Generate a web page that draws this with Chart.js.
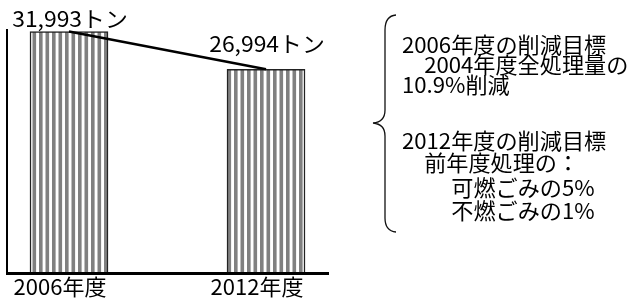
<!DOCTYPE html>
<html>
<head>
<meta charset="utf-8">
<script src="https://cdn.jsdelivr.net/npm/chart.js@4"></script>
<style>
  html, body { margin: 0; padding: 0; background: #fff; }
</style>
</head>
<body>
<canvas id="chart" width="627" height="301"></canvas>
<script>
const years = ['2006年度', '2012年度'];
const tons = [31993, 26994];
const notes = [
    '2006年度の削減目標',
    '　2004年度全処理量の',
    '10.9%削減',
    '2012年度の削減目標',
    '　前年度処理の：',
    '　　 可燃ごみの5%',
    '　　 不燃ごみの1%'
];

const FONT = '"Noto Sans CJK JP", "Noto Sans", sans-serif';

// motif rayé vertical des barres
function stripes() {
    const c = document.createElement('canvas');
    c.width = 13;
    c.height = 4;
    const g = c.getContext('2d');
    g.fillStyle = '#fff';
    g.fillRect(0, 0, 13, 4);
    g.fillStyle = '#808080';
    g.fillRect(0, 0, 3.6, 4);
    g.fillRect(6.5, 0, 3.6, 4);
    return g.createPattern(c, 'repeat');
}

// texte un peu élargi horizontalement
function wideText(ctx, t, x, y, sx) {
    ctx.save();
    ctx.translate(x, y);
    ctx.scale(sx, 1);
    ctx.fillText(t, 0, 0);
    ctx.restore();
}

const points = tons.map((t, i) => ({ x: i, y: t }));

const annotations = {
    id: 'annotations',
    afterDatasetsDraw(chart) {
        const ctx = chart.ctx;
        const meta = chart.getDatasetMeta(1);
        ctx.save();
        ctx.fillStyle = '#000';
        ctx.textBaseline = 'alphabetic';

        // valeurs au-dessus des barres
        ctx.font = '22px ' + FONT;
        ctx.textAlign = 'center';
        const lift = [4.5, 17];
        meta.data.forEach((bar, i) => {
            wideText(ctx, tons[i].toLocaleString('en-US') + 'トン', bar.x + 1, bar.y - lift[i], 1.04);
        });

        // texte à droite
        ctx.font = '21.5px ' + FONT;
        ctx.textAlign = 'left';
        const ys = [53, 73, 93, 149, 171, 196, 219];
        notes.forEach((t, i) => wideText(ctx, t, 402, ys[i], 1.03));

        // accolade
        ctx.strokeStyle = '#111';
        ctx.lineWidth = 1.3;
        ctx.beginPath();
        ctx.moveTo(396, 15);
        ctx.quadraticCurveTo(385, 16, 385, 30);
        ctx.lineTo(385, 110);
        ctx.quadraticCurveTo(385, 122, 373, 123);
        ctx.quadraticCurveTo(385, 124, 385, 136);
        ctx.lineTo(385, 218);
        ctx.quadraticCurveTo(385, 231, 396, 232);
        ctx.stroke();
        ctx.restore();
    }
};

new Chart(document.getElementById('chart'), {
    data: {
        datasets: [
            {
                type: 'line',
                data: points,
                borderColor: '#000',
                borderWidth: 2.5,
                pointRadius: 0,
                order: 0
            },
            {
                type: 'bar',
                data: points,
                backgroundColor: stripes(),
                borderColor: '#222',
                borderWidth: 1.5,
                barThickness: 78,
                order: 1
            }
        ]
    },
    options: {
        responsive: false,
        animation: false,
        layout: { padding: { left: 7, right: 299, top: 30, bottom: 1.6 } },
        plugins: {
            legend: { display: false },
            tooltip: { enabled: false }
        },
        scales: {
            x: {
                type: 'linear',
                offset: false,
                min: -0.3147,
                max: 1.3147,
                afterBuildTicks: (scale) => {
                    scale.ticks = years.map((_, i) => ({ value: i }));
                },
                ticks: {
                    callback: (v) => years[v],
                    font: { family: FONT, size: 22 },
                    color: '#000',
                    padding: 0,
                    labelOffset: -9,
                    autoSkip: false,
                    maxRotation: 0
                },
                grid: { display: false, drawTicks: false },
                border: { display: true, color: '#000', width: 3, z: 1 }
            },
            y: {
                min: 0,
                max: 32200,
                ticks: { display: false },
                grid: { display: false, drawTicks: false },
                border: { display: true, color: '#000', width: 2 }
            }
        }
    },
    plugins: [annotations]
});
</script>
</body>
</html>
